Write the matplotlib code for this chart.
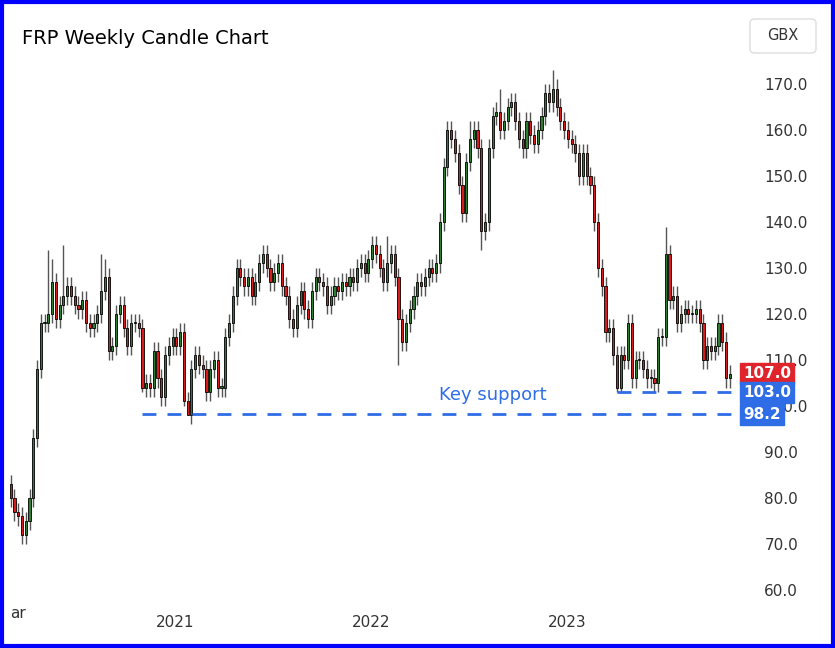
import matplotlib
matplotlib.use("Agg")
import matplotlib.pyplot as plt
import matplotlib.dates as mdates
from matplotlib.patches import Rectangle, FancyBboxPatch
import matplotlib.transforms as mtransforms
import numpy as np
import datetime as dt

start = dt.date(2020, 3, 2)
closes = [80, 77, 76, 72, 75, 80, 93, 108, 118, 118,
          120, 127, 119, 122, 124, 126, 124, 122, 121, 123,
          118, 117, 118, 120, 125, 128, 112, 113, 120, 122,
          117, 113, 118, 118, 117, 104, 105, 104, 112, 106,
          102, 111, 113, 115, 113, 116, 101, 98, 108, 111,
          109, 108, 103, 108, 110, 104, 104, 115, 118, 124,
          130, 128, 126, 128, 124, 127, 131, 133, 130, 127,
          129, 131, 126, 124, 119, 117, 122, 125, 121, 119,
          125, 128, 127, 126, 122, 124, 126, 125, 127, 126,
          128, 127, 130, 131, 129, 132, 135, 133, 130, 127,
          131, 133, 128, 119, 114, 118, 121, 124, 127, 126,
          128, 130, 129, 131, 140, 152, 160, 158, 155, 148,
          142, 153, 158, 160, 156, 138, 140, 156, 163, 164,
          160, 162, 165, 166, 162, 158, 156, 162, 159, 157,
          160, 163, 168, 166, 169, 165, 162, 160, 158, 157,
          155, 150, 155, 150, 148, 140, 130, 126, 116, 117,
          111, 104, 111, 110, 118, 106, 110, 110, 108, 106,
          106, 105, 115, 115, 133, 123, 124, 118, 120, 121,
          120, 120, 121, 118, 110, 113, 112, 113, 118, 114,
          106, 107]
first_open = 83
special_high = {10: 134, 11: 132, 14: 135, 24: 133, 25: 132, 100: 137, 96: 137,
                144: 173, 145: 171, 174: 139, 130: 169, 122: 162}
special_low = {4: 70, 35: 103, 47: 98.2, 46: 100, 103: 109, 125: 134, 161: 103, 162: 103, 2: 74}

opens = [first_open] + closes[:-1]
n = len(closes)
dates = [start + dt.timedelta(weeks=i) for i in range(n)]
xs = mdates.date2num(dates)

fig = plt.figure(figsize=(8.35, 6.48), dpi=100)
ax = fig.add_axes([8/835, (648-595)/648, (740-8)/835, (595-50)/648])
for i in range(n):
    o, c = opens[i], closes[i]
    hi = special_high.get(i, max(o, c) + 2)
    lo = special_low.get(i, min(o, c) - 2)
    up = c >= o
    col = '#2e7d32' if up else '#d81b1b'
    ax.vlines(xs[i], lo, hi, color='#555555', lw=1, zorder=2)
    h = max(abs(c - o), 0.3)
    ax.add_patch(Rectangle((xs[i] - 2.0, min(o, c)), 4.0, h, facecolor=col,
                           edgecolor='black', lw=0.6, zorder=3))

ax.set_ylim(58.9, 177.4)
x0 = mdates.date2num(dt.date(2020, 2, 26))
x1 = mdates.date2num(dt.date(2023, 11, 18))
ax.set_xlim(x0, x1)

blue = '#2f6de6'
ax.hlines(98.2, xs[35], x1, colors=blue, linestyles=(0, (5, 4)), lw=2, zorder=4)
ax.hlines(103, xs[161], x1, colors=blue, linestyles=(0, (5, 4)), lw=2, zorder=4)
ax.text(mdates.date2num(dt.date(2022, 8, 15)), 102.3, 'Key support', color=blue,
        fontsize=13, ha='center', va='center')

for s in ax.spines.values():
    s.set_visible(False)
ax.tick_params(left=False, right=False, bottom=False, labelleft=False, labelright=True,
               labelsize=11, labelcolor='#333333', pad=14)
ax.set_yticks(np.arange(60, 171, 10))
ax.set_yticklabels([f'{v:.1f}' for v in np.arange(60, 171, 10)])
ax.set_xticks([mdates.date2num(dt.date(y, 1, 1)) for y in (2021, 2022, 2023)])
ax.set_xticklabels(['2021', '2022', '2023'])
ax.tick_params(axis='x', labelsize=11, pad=11)
fig.text(10/835, 1 - 614/648, 'ar', fontsize=11, color='#333333', va='center')

tr = mtransforms.blended_transform_factory(ax.transAxes, ax.transData)
for val, txt, colr in [(107.0, '107.0', '#e0242b'), (103.0, '103.0', blue), (98.2, '98.2', blue)]:
    ax.text(1.004, val, txt, transform=tr, fontsize=11, fontweight='bold', color='white',
            va='center', ha='left', clip_on=False, zorder=10,
            bbox=dict(boxstyle='square,pad=0.2', fc=colr, ec=colr))

fig.text(22/835, 1 - 38/648, 'FRP Weekly Candle Chart', fontsize=14, va='center', color='black')
fig.patches.append(FancyBboxPatch((750/835, 1 - 53/648), 66/835, 34/648,
                                  boxstyle='round,pad=0,rounding_size=0.006',
                                  transform=fig.transFigure, fc='white', ec='#dddddd', lw=1))
fig.text(783/835, 1 - 36/648, 'GBX', fontsize=10.5, ha='center', va='center', color='#333333')
fig.patches.append(Rectangle((0.002, 0.003), 0.996, 0.994, transform=fig.transFigure,
                             fill=False, ec='#0000ff', lw=3))
fig.savefig('out.png', dpi=100)
